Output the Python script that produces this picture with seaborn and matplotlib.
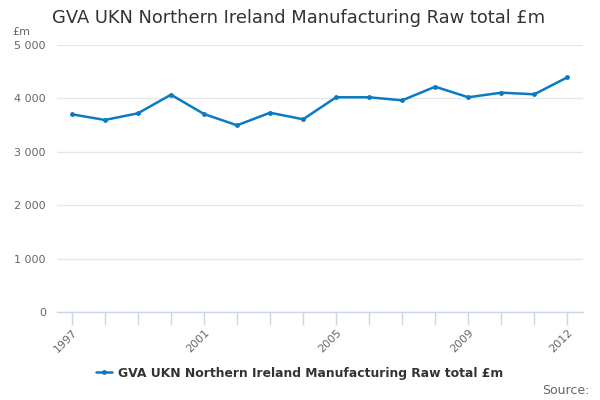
import seaborn as sns
import pandas as pd
from matplotlib import pyplot as plt

years = list(range(1997, 2013))
gva_values = [3702, 3596, 3721, 4069, 3708, 3496, 3732, 3609,
              4021, 4021, 3964, 4219, 4021, 4107, 4077, 4395]
label_years = [1997, 2001, 2005, 2009, 2012]
series_name = "GVA UKN Northern Ireland Manufacturing Raw total £m"

sns.set_theme(style="white")
plt.rcParams['font.family'] = ['DejaVu Sans']

df = pd.DataFrame({"year": years, "value": gva_values})

fig = plt.figure(figsize=(6, 4), dpi=100)
ax = fig.add_axes([0.095, 0.22, 0.877, 0.6675])

line_color = "#0a7bc2"
sns.lineplot(data=df, x="year", y="value", ax=ax, color=line_color,
             marker="o", markersize=3.5, markeredgewidth=0, linewidth=1.8)

ax.set_xlim(1996.55, 2012.48)
ax.set_ylim(0, 5000)
ax.set_yticks([0, 1000, 2000, 3000, 4000, 5000])
ax.set_yticklabels(["0", "1 000", "2 000", "3 000", "4 000", "5 000"],
                   fontsize=8, color="#666666")
ax.yaxis.grid(True, color="#e6e6e6", linewidth=1)
ax.set_axisbelow(True)

ax.set_xticks(years)
ax.set_xticklabels([str(y) if y in label_years else "" for y in years],
                   rotation=45, ha="right", rotation_mode="anchor",
                   fontsize=8, color="#666666")
ax.tick_params(axis="x", length=9, color="#ccd6eb", width=1, pad=2, bottom=True)
ax.tick_params(axis="y", length=0, pad=8)

for side in ["left", "right", "top"]:
    ax.spines[side].set_visible(False)
ax.spines["bottom"].set_color("#ccd6eb")
ax.spines["bottom"].set_linewidth(1)
ax.set_xlabel("")
ax.set_ylabel("")

fig.text(0.087, 0.955, "GVA UKN Northern Ireland Manufacturing Raw total £m",
         fontsize=12.9, color="#333333", va="center", ha="left")
fig.text(0.02, 0.92, "£m", fontsize=8, color="#666666", va="center", ha="left")

fig.legend(handles=ax.get_lines()[:1], labels=[series_name],
           loc="center", bbox_to_anchor=(0.5, 0.067), frameon=False,
           prop={"weight": "bold", "size": 8.9}, labelcolor="#333333",
           handlelength=1.3, handletextpad=0.5)

fig.text(0.983, 0.025, "Source:", fontsize=9, color="#666666",
         ha="right", va="center")

fig.savefig("out.png", dpi=100)
